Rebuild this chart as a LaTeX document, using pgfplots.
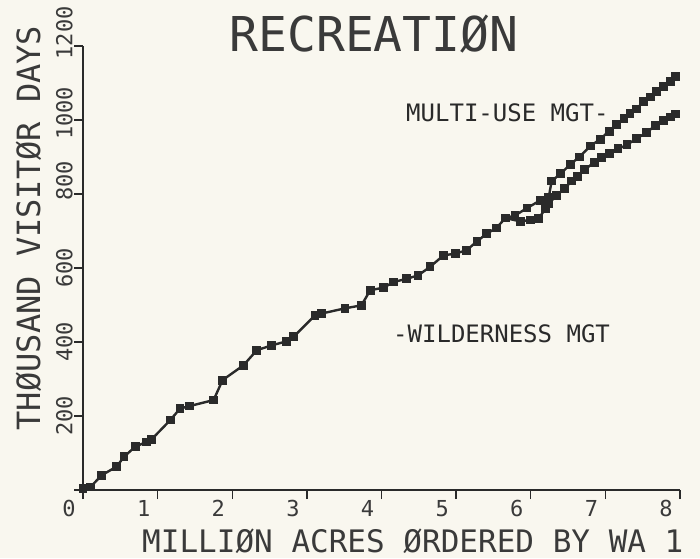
\documentclass[border=0pt]{standalone}
\usepackage{pgfplots}
\pgfplotsset{compat=1.18}
\usepackage{fontspec}
\newfontfamily\plotfont{DejaVu Sans Mono}
\definecolor{bg}{HTML}{F9F7EF}
\definecolor{ink}{HTML}{2A2A2A}
\definecolor{txt}{HTML}{3A3A3A}

\pgfplotstableread{
x y
0.00 5
0.10 8
0.25 40
0.45 63
0.55 90
0.70 117
0.85 130
0.92 137
1.17 189
1.30 220
1.43 227
1.75 243
1.87 297
2.15 337
2.33 378
2.53 391
2.73 402
2.82 414
3.11 472
3.20 477
3.51 491
3.73 499
3.85 540
4.03 547
4.16 562
4.34 571
4.49 580
4.65 603
4.83 634
4.99 639
5.14 648
5.28 672
5.41 693
5.54 708
5.66 735
}\common

\pgfplotstableread{
x y
5.66 735
5.86 726
6.00 730
6.10 733
6.20 760
6.24 790
6.28 835
6.40 855
6.53 880
6.65 900
6.80 930
6.93 948
7.05 970
7.15 988
7.25 1003
7.33 1018
7.42 1030
7.51 1050
7.60 1062
7.69 1076
7.78 1090
7.87 1105
7.94 1117
}\multi

\pgfplotstableread{
x y
5.66 735
5.79 742
5.95 762
6.13 783
6.24 775
6.35 796
6.45 815
6.55 835
6.63 848
6.72 866
6.85 885
6.95 898
7.05 910
7.17 922
7.29 933
7.42 950
7.55 966
7.67 985
7.78 998
7.87 1008
7.94 1016
}\wild

\begin{document}
\begin{tikzpicture}[x=1pt,y=1pt]
\fill[bg] (0,0) rectangle (700,558);
\useasboundingbox (0,0) rectangle (700,558);
\begin{axis}[
  at={(83pt,68pt)}, anchor=south west,
  scale only axis, width=597pt, height=444pt,
  xmin=0, xmax=8, ymin=0, ymax=1200,
  axis x line=bottom, axis y line=left,
  axis line style={-, line width=1.6pt, ink},
  xtick={0,1,...,8}, ytick={0,200,...,1200},
  xticklabels={0,1,2,3,4,5,6,7,8},
  yticklabels={,200,400,600,\phantom{00}800,\phantom{0}1000,\phantom{00}1200},
  tick style={line width=1.4pt, ink},
  major tick length=9pt, tick align=outside,
  xticklabel style={font=\plotfont\fontsize{22}{22}\selectfont, text=txt, inner sep=1pt, anchor=north, xshift=-14pt},
  yticklabel style={font=\plotfont\fontsize{22}{22}\selectfont, text=txt, inner sep=1pt, rotate=90, anchor=south},
  clip=false,
]
\addplot[ink, line width=2.4pt, mark=square*, mark size=3.2pt, mark options={solid, fill=ink}] table[x=x,y=y] {\common};
\addplot[ink, line width=2.4pt, mark=square*, mark size=3.2pt, mark options={solid, fill=ink}] table[x=x,y=y] {\multi};
\addplot[ink, line width=2.4pt, mark=square*, mark size=3.2pt, mark options={solid, fill=ink}] table[x=x,y=y] {\wild};
\end{axis}
\node[anchor=base, inner sep=0pt, text=txt, font=\plotfont\fontsize{48}{48}\selectfont] at (374,506) {RECREATIØN};
\node[anchor=base, rotate=90, inner sep=0pt, text=txt, font=\plotfont\fontsize{32}{32}\selectfont] at (40,330) {THØUSAND VISITØR DAYS};
\node[anchor=base west, inner sep=0pt, text=txt, font=\plotfont\fontsize{31}{31}\selectfont] at (142,6) {MILLIØN ACRES ØRDERED BY WA 1};
\node[anchor=base west, inner sep=0pt, text=ink, font=\plotfont\fontsize{24}{24}\selectfont] at (406,436) {MULTI-USE MGT-};
\node[anchor=base west, inner sep=0pt, text=ink, font=\plotfont\fontsize{24}{24}\selectfont] at (393,216) {-WILDERNESS MGT};
\end{tikzpicture}
\end{document}
